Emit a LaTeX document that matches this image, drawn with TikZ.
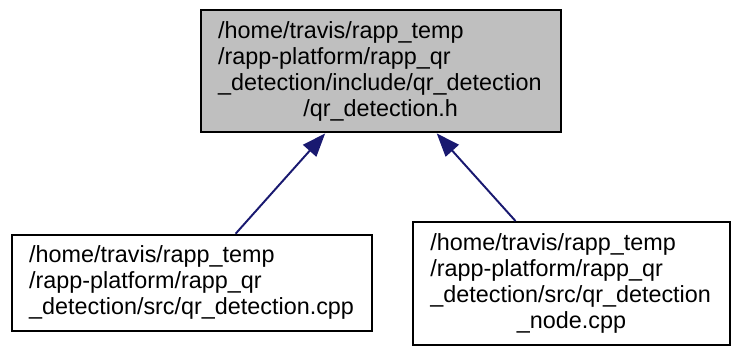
\documentclass[tikz,border=0pt]{standalone}
\usepackage{fontspec}
\setmainfont{Liberation Sans}
\usetikzlibrary{arrows.meta}
\definecolor{edgeblue}{HTML}{191970}
\definecolor{headgray}{HTML}{BFBFBF}

\begin{document}
\begin{tikzpicture}[
    x=0.5pt, y=-0.5pt,
    filebox/.style={rectangle, draw, line width=1pt, fill=white, align=left, inner xsep=9pt, inner ysep=0pt, font=\fontsize{12}{13.35}\selectfont},
    headbox/.style={filebox, fill=headgray},
    arrow/.style={-{Triangle[length=12pt,width=9pt]}, draw=edgeblue, line width=1pt}
]
\useasboundingbox (0,0) rectangle (759,358.5);

\node[headbox, text width=167pt, minimum height=63pt] (qrh) at (391,73) {/home/travis/rapp\_temp\\/rapp-platform/rapp\_qr\\\_detection/include/qr\_detection\par{\centering /qr\_detection.h\par}};
\node[filebox, text width=167pt, minimum height=49.5pt] (qrcpp) at (197,290.5) {/home/travis/rapp\_temp\\/rapp-platform/rapp\_qr\\\_detection/src/qr\_detection.cpp};
\node[filebox, text width=145pt, minimum height=63pt] (qrnode) at (587,291) {/home/travis/rapp\_temp\\/rapp-platform/rapp\_qr\\\_detection/src/qr\_detection\par{\centering \_node.cpp\par}};

\draw[arrow] (qrcpp) -- (qrh);
\draw[arrow] (qrnode) -- (qrh);

\end{tikzpicture}
\end{document}
